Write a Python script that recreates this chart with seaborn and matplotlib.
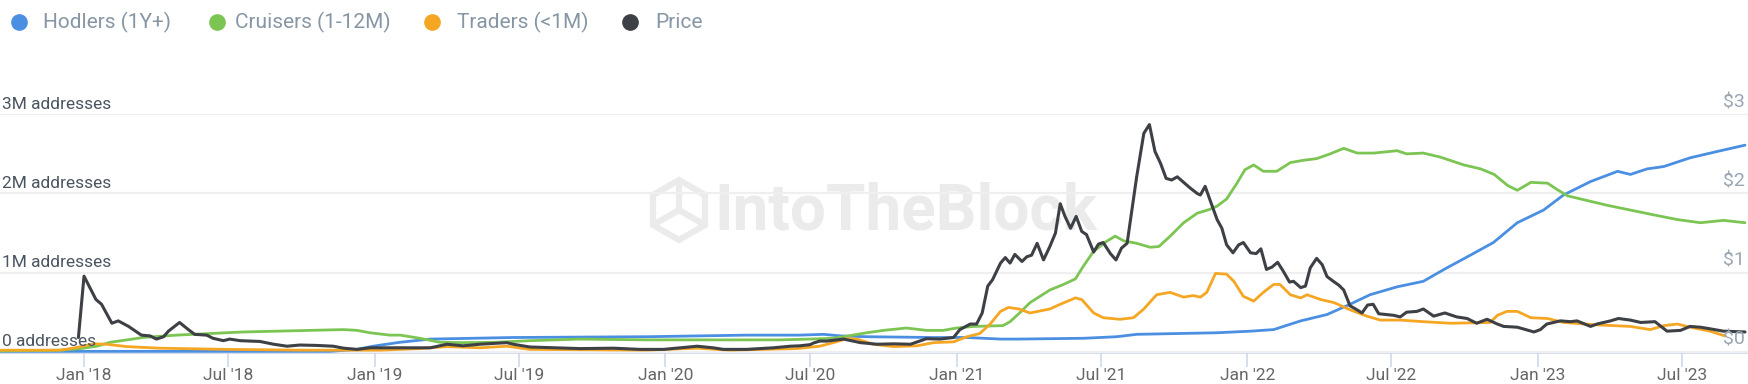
import math
import matplotlib
matplotlib.use("Agg")
import matplotlib.pyplot as plt
import matplotlib.dates as mdates
import matplotlib.transforms as mtransforms
from matplotlib.lines import Line2D
from matplotlib.patches import RegularPolygon
import seaborn as sns
import pandas as pd

# ---------------- data (addresses in millions, price in USD) ----------------
hodler_dates = ["2017-09-18","2018-11-06","2018-12-10","2018-12-30","2019-02-02","2019-03-12","2019-06-24","2019-12-09",
                "2020-04-12","2020-06-18","2020-07-18","2020-08-08","2020-09-10","2020-12-03","2021-01-14","2021-02-25",
                "2021-03-18","2021-06-09","2021-07-21","2021-08-15","2021-11-24","2022-01-05","2022-02-03","2022-03-09",
                "2022-04-11","2022-05-10","2022-06-04","2022-07-08","2022-08-10","2022-09-05","2022-10-08","2022-11-06",
                "2022-12-06","2023-01-08","2023-02-02","2023-03-08","2023-04-11","2023-04-27","2023-05-18","2023-06-08",
                "2023-07-11","2023-08-14","2023-09-18"]
hodler_m = [0.005,0.005,0.03,0.07,0.12,0.16,0.18,0.19,0.21,0.21,
            0.22,0.20,0.19,0.18,0.18,0.16,0.16,0.17,0.19,0.22,
            0.24,0.26,0.28,0.39,0.47,0.60,0.72,0.82,0.89,1.04,
            1.22,1.38,1.63,1.79,1.98,2.15,2.28,2.24,2.31,2.34,
            2.45,2.53,2.61]

cruiser_dates = ["2017-09-18","2017-12-02","2017-12-27","2018-01-17","2018-02-03","2018-02-24","2018-03-16","2018-04-27",
                 "2018-06-08","2018-07-20","2018-08-31","2018-10-12","2018-11-23","2018-12-10","2018-12-26","2019-01-20",
                 "2019-02-02","2019-02-27","2019-03-24","2019-04-22","2019-06-03","2019-07-15","2019-09-16","2019-12-09",
                 "2020-03-01","2020-05-24","2020-07-01","2020-07-30","2020-08-12","2020-09-10","2020-10-01","2020-10-30",
                 "2020-11-24","2020-12-15","2021-01-01","2021-01-22","2021-02-28","2021-03-09","2021-03-22","2021-04-03",
                 "2021-04-28","2021-05-15","2021-05-30","2021-06-09","2021-06-22","2021-07-09","2021-07-19","2021-07-30",
                 "2021-08-15","2021-09-01","2021-09-12","2021-09-26","2021-10-13","2021-10-30","2021-11-15","2021-11-24",
                 "2021-12-06","2021-12-19","2021-12-29","2022-01-09","2022-01-21","2022-02-07","2022-02-24","2022-03-13",
                 "2022-03-29","2022-04-15","2022-05-02","2022-05-19","2022-06-09","2022-07-08","2022-07-20","2022-08-10",
                 "2022-08-31","2022-09-30","2022-10-21","2022-11-07","2022-11-24","2022-12-06","2022-12-23","2023-01-13",
                 "2023-01-25","2023-02-07","2023-03-04","2023-03-29","2023-04-27","2023-05-26","2023-06-25","2023-07-24",
                 "2023-08-22","2023-09-18"]
cruiser_m = [0.01,0.02,0.04,0.07,0.12,0.15,0.18,0.21,0.23,0.25,
             0.26,0.27,0.28,0.27,0.24,0.21,0.21,0.17,0.12,0.115,
             0.12,0.14,0.16,0.15,0.15,0.15,0.16,0.17,0.19,0.24,
             0.27,0.30,0.27,0.27,0.30,0.32,0.33,0.38,0.50,0.62,
             0.78,0.85,0.92,1.08,1.27,1.40,1.46,1.40,1.37,1.32,
             1.33,1.46,1.63,1.75,1.80,1.84,1.93,2.13,2.30,2.36,
             2.28,2.28,2.39,2.42,2.44,2.50,2.57,2.51,2.51,2.54,
             2.50,2.51,2.46,2.36,2.31,2.24,2.10,2.04,2.14,2.13,
             2.05,1.97,1.91,1.85,1.79,1.73,1.67,1.63,1.66,1.63]

trader_dates = ["2017-09-18","2017-12-02","2017-12-21","2018-01-13","2018-01-29","2018-02-24","2018-04-06","2018-06-29",
                "2018-09-29","2019-01-08","2019-02-27","2019-04-02","2019-05-13","2019-06-16","2019-07-15","2019-12-09",
                "2020-02-10","2020-03-22","2020-06-14","2020-07-13","2020-07-30","2020-08-16","2020-08-29","2020-09-18",
                "2020-10-14","2020-11-12","2020-12-03","2020-12-28","2021-01-14","2021-01-30","2021-02-12","2021-02-25",
                "2021-03-07","2021-03-20","2021-04-03","2021-04-28","2021-05-11","2021-05-30","2021-06-07","2021-06-22",
                "2021-07-04","2021-07-25","2021-08-11","2021-08-24","2021-09-09","2021-09-26","2021-10-13","2021-10-25",
                "2021-11-03","2021-11-11","2021-11-22","2021-12-06","2021-12-15","2021-12-27","2022-01-09","2022-01-21",
                "2022-02-03","2022-02-11","2022-02-24","2022-03-09","2022-03-17","2022-04-03","2022-04-20","2022-05-10",
                "2022-05-31","2022-06-17","2022-07-12","2022-08-10","2022-09-13","2022-11-02","2022-11-11","2022-11-23",
                "2022-12-06","2022-12-23","2023-01-13","2023-02-02","2023-03-16","2023-04-27","2023-05-22","2023-06-08",
                "2023-06-25","2023-07-11","2023-08-05","2023-08-24"]
trader_m = [0.02,0.02,0.05,0.10,0.095,0.065,0.045,0.03,0.02,0.02,
            0.04,0.065,0.05,0.07,0.03,0.02,0.045,0.02,0.04,0.07,
            0.115,0.165,0.16,0.095,0.065,0.075,0.115,0.125,0.19,0.23,
            0.35,0.51,0.56,0.54,0.49,0.54,0.60,0.68,0.66,0.49,
            0.43,0.41,0.43,0.54,0.72,0.75,0.69,0.71,0.69,0.75,
            0.99,0.98,0.89,0.70,0.64,0.75,0.85,0.85,0.72,0.68,
            0.72,0.66,0.62,0.53,0.45,0.40,0.40,0.38,0.36,0.37,
            0.46,0.51,0.51,0.43,0.42,0.37,0.34,0.32,0.28,0.33,
            0.35,0.31,0.26,0.20]

price_dates = ["2017-12-25","2018-01-01","2018-01-16","2018-01-23","2018-02-05","2018-02-13","2018-02-26","2018-03-14",
               "2018-03-25","2018-04-02","2018-04-11","2018-04-17","2018-05-01","2018-05-12","2018-05-20","2018-06-04",
               "2018-06-12","2018-06-25","2018-07-03","2018-07-16","2018-08-10","2018-08-27","2018-09-13","2018-09-29",
               "2018-10-20","2018-11-10","2018-11-23","2018-12-10","2018-12-26",
               "2019-01-08","2019-03-12","2019-04-02","2019-04-22","2019-05-13","2019-06-16","2019-06-24","2019-07-15",
               "2019-08-14","2019-09-16","2019-10-28","2019-11-30","2019-12-30",
               "2020-01-20","2020-02-10","2020-03-01","2020-03-14","2020-04-12","2020-05-16","2020-06-06","2020-06-18",
               "2020-07-01","2020-07-05","2020-07-13","2020-07-22","2020-08-12","2020-09-02","2020-09-23","2020-10-14",
               "2020-11-04","2020-11-24","2020-12-11","2020-12-28",
               "2021-01-05","2021-01-18","2021-01-26","2021-02-02","2021-02-09","2021-02-15","2021-02-25","2021-03-03",
               "2021-03-09","2021-03-15","2021-03-24","2021-03-30","2021-04-05","2021-04-12","2021-04-20","2021-04-28",
               "2021-05-05","2021-05-11","2021-05-17","2021-05-24","2021-05-31","2021-06-07","2021-06-13","2021-06-22",
               "2021-06-28","2021-07-04","2021-07-13","2021-07-20","2021-07-27","2021-08-03","2021-08-09","2021-08-15",
               "2021-08-24","2021-08-31","2021-09-07","2021-09-14","2021-09-21","2021-09-28","2021-10-05","2021-10-13",
               "2021-10-21","2021-10-30","2021-11-03","2021-11-09","2021-11-15","2021-11-24","2021-11-30","2021-12-06",
               "2021-12-14","2021-12-21","2021-12-27",
               "2022-01-05","2022-01-12","2022-01-18","2022-01-25","2022-02-01","2022-02-08","2022-02-15","2022-02-23",
               "2022-02-28","2022-03-09","2022-03-15","2022-03-21","2022-03-29","2022-04-05","2022-04-11","2022-04-19",
               "2022-04-26","2022-05-02","2022-05-10","2022-05-17","2022-05-25","2022-06-01","2022-06-08","2022-06-15",
               "2022-06-25","2022-07-04","2022-07-12","2022-07-20","2022-08-02","2022-08-10","2022-08-23","2022-09-06",
               "2022-09-21","2022-10-04","2022-10-16","2022-10-29","2022-11-11","2022-11-19","2022-12-06","2022-12-27",
               "2023-01-04","2023-01-12","2023-01-29","2023-02-11","2023-02-19","2023-03-08","2023-03-16","2023-04-02",
               "2023-04-12","2023-04-27","2023-05-10","2023-05-28","2023-06-12","2023-06-29","2023-07-11","2023-07-24",
               "2023-08-05","2023-08-22","2023-09-18"]
price_usd = [0.18,0.955,0.66,0.60,0.36,0.39,0.32,0.21,0.20,0.16,0.19,0.26,0.37,0.28,0.22,0.21,0.17,0.14,0.16,0.14,
             0.13,0.095,0.07,0.085,0.08,0.07,0.045,0.03,0.05,
             0.05,0.05,0.095,0.075,0.095,0.115,0.095,0.06,0.05,0.04,0.045,0.03,0.03,
             0.05,0.07,0.05,0.03,0.03,0.05,0.07,0.075,0.09,0.11,0.135,0.135,0.16,0.115,0.095,0.10,0.095,0.165,0.16,0.18,
             0.28,0.35,0.35,0.49,0.83,0.91,1.12,1.19,1.12,1.23,1.14,1.20,1.22,1.37,1.16,1.33,1.50,1.87,1.71,1.56,
             1.71,1.52,1.48,1.26,1.36,1.38,1.24,1.16,1.31,1.37,1.79,2.21,2.76,2.87,2.53,2.38,2.19,2.17,2.21,2.14,
             2.07,2.00,1.98,2.09,1.92,1.67,1.56,1.35,1.25,1.35,1.38,
             1.25,1.24,1.30,1.04,1.07,1.13,1.02,0.88,0.89,0.81,0.83,1.06,1.18,1.10,0.95,0.89,0.84,0.78,0.58,0.54,
             0.49,0.59,0.60,0.48,0.47,0.46,0.44,0.50,0.51,0.54,0.45,0.49,0.44,0.42,0.36,0.41,0.35,0.32,0.31,0.25,
             0.28,0.35,0.39,0.38,0.39,0.32,0.35,0.39,0.42,0.40,0.37,0.38,0.26,0.27,0.32,0.31,0.29,0.26,0.25]

series_names = ["Hodlers (1Y+)", "Cruisers (1-12M)", "Traders (<1M)", "Price"]
series_colors = ["#4a8fe2", "#7cc553", "#f5a623", "#3d4045"]
left_ticks = [0, 1, 2, 3]
left_labels = ["0 addresses", "1M addresses", "2M addresses", "3M addresses"]
right_labels = ["$0", "$1", "$2", "$3"]

assert len(hodler_dates) == len(hodler_m)
assert len(cruiser_dates) == len(cruiser_m)
assert len(trader_dates) == len(trader_m)
assert len(price_dates) == len(price_usd)

def frame(d, v):
    return pd.DataFrame({"date": pd.to_datetime(d), "value": v})

df_h = frame(hodler_dates, hodler_m)
df_c = frame(cruiser_dates, cruiser_m)
df_t = frame(trader_dates, trader_m)
df_p = frame(price_dates, price_usd)

# ---------------- styling ----------------
sns.set_theme(style="white")
plt.rcParams["font.family"] = ["Roboto", "DejaVu Sans"]

W, H = 1749, 384
fig = plt.figure(figsize=(W / 100, H / 100), dpi=100)
fig.patch.set_facecolor("white")

base_px = 352.7   # x-axis line (pixels from top)
top_px = 113.5
ylo, yhi = -0.012, 3.01
ax = fig.add_axes([0.0, (H - base_px) / H, 1.0, (base_px - top_px) / H])

xmin = pd.Timestamp("2017-09-17 12:00")
xmax = pd.Timestamp("2023-09-23")

lw = 2.0
sns.lineplot(data=df_h, x="date", y="value", ax=ax, color=series_colors[0], linewidth=lw)
sns.lineplot(data=df_c, x="date", y="value", ax=ax, color=series_colors[1], linewidth=lw)
sns.lineplot(data=df_t, x="date", y="value", ax=ax, color=series_colors[2], linewidth=lw)

ax2 = ax.twinx()
sns.lineplot(data=df_p, x="date", y="value", ax=ax2, color=series_colors[3], linewidth=2.2)

for a in (ax, ax2):
    a.set_xlim(xmin, xmax)
    a.set_ylim(ylo, yhi)
    a.set_xlabel("")
    a.set_ylabel("")
    a.set_facecolor("none")
    for s in a.spines.values():
        s.set_visible(False)

ax.set_zorder(0)
ax2.set_zorder(1)

# grid
ax.set_yticks(left_ticks)
ax.grid(axis="y", color="#efefef", linewidth=1.6)
ax.grid(axis="x", visible=False)
ax.tick_params(axis="y", length=0, labelleft=False)
ax2.set_yticks([])
ax2.tick_params(axis="y", length=0, labelright=False)

# bottom axis line
ax.spines["bottom"].set_visible(True)
ax.spines["bottom"].set_color("#ccd6eb")
ax.spines["bottom"].set_linewidth(1.2)
ax.spines["bottom"].set_zorder(0.5)

ax.xaxis.set_major_locator(mdates.MonthLocator(bymonth=[1, 7]))
ax.xaxis.set_major_formatter(mdates.DateFormatter("%b '%y"))
ax.tick_params(axis="x", which="major", direction="out", length=10, width=1.1,
               color="#ccd6eb", labelsize=12.5, labelcolor="#666666", pad=1, bottom=True)
ax2.tick_params(axis="x", bottom=False, labelbottom=False, top=False, labeltop=False)

# y labels inside plot
trans_l = mtransforms.blended_transform_factory(ax.transAxes, ax.transData)
trans_r = mtransforms.blended_transform_factory(ax2.transAxes, ax2.transData)
for v, lab in zip(left_ticks, left_labels):
    ax.text(0.001, v + 0.035, lab, transform=trans_l, ha="left", va="bottom",
            fontsize=12.5, color="#4b5561", zorder=5)
for v, lab in zip(left_ticks, right_labels):
    ax2.text(0.9975, v + 0.035, lab, transform=trans_r,
             ha="right", va="bottom", fontsize=14, color="#9aa6b3", zorder=5)

# watermark (behind the axes)
wm = "#ebebeb"
fig.text(906 / W, 1 - 212 / H, "IntoTheBlock", ha="center", va="center", fontsize=46,
         fontweight="bold", color=wm, zorder=-1)
ident = mtransforms.IdentityTransform()
cx, cy = 679, H - 210
fig.add_artist(RegularPolygon((cx, cy), numVertices=6, radius=30, orientation=0,
                              fill=False, edgecolor=wm, linewidth=4.5, transform=ident, zorder=-1))
for ang in (90, 210, 330):
    fig.add_artist(Line2D([cx, cx + 27 * math.cos(math.radians(ang))],
                          [cy, cy + 27 * math.sin(math.radians(ang))],
                          color=wm, linewidth=4.5, transform=ident, zorder=-1))

# legend
leg_x_circle = [19, 217, 432, 630]
leg_x_text = [43, 235, 457, 655]
leg_y = 22
for xc, xt, name, col in zip(leg_x_circle, leg_x_text, series_names, series_colors):
    fig.add_artist(Line2D([xc / W], [1 - leg_y / H], marker="o", markersize=11, color=col,
                          linestyle="", transform=fig.transFigure))
    fig.text(xt / W, 1 - leg_y / H, name, ha="left", va="center", fontsize=15, color="#8796a5")

fig.savefig("out.png", dpi=100)
